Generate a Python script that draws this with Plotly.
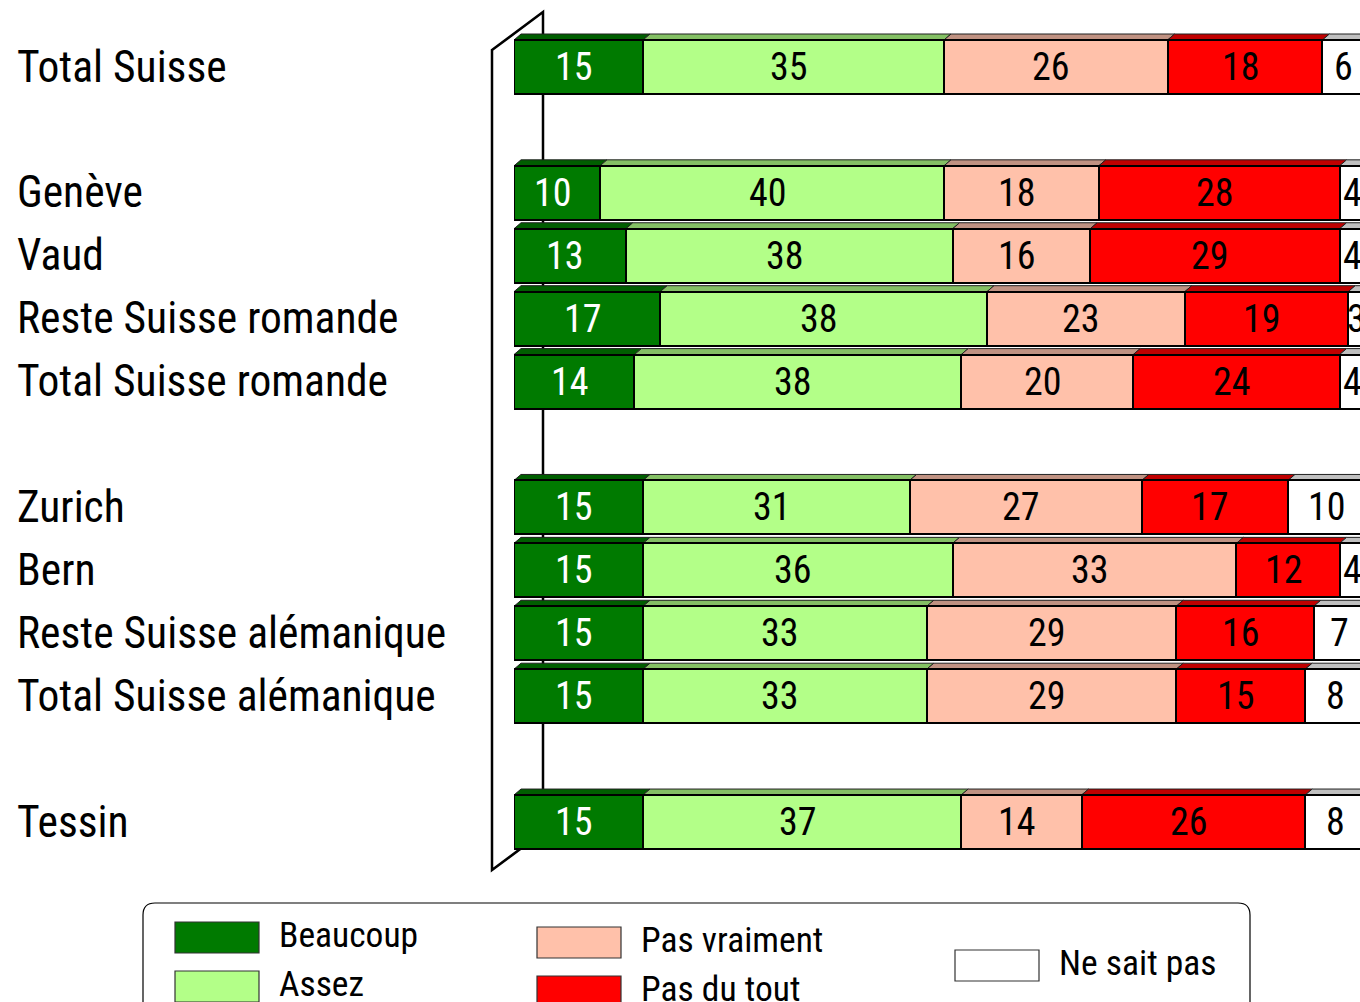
import plotly.graph_objects as go

# ---- data ---------------------------------------------------------------
groups = [
    ["Total Suisse"],
    ["Genève", "Vaud", "Reste Suisse romande", "Total Suisse romande"],
    ["Zurich", "Bern", "Reste Suisse alémanique", "Total Suisse alémanique"],
    ["Tessin"],
]
responses = ["Beaucoup", "Assez", "Pas vraiment", "Pas du tout", "Ne sait pas"]
beaucoup = [15, 10, 13, 17, 14, 15, 15, 15, 15, 15]
assez = [35, 40, 38, 38, 38, 31, 36, 33, 33, 37]
pas_vraiment = [26, 18, 16, 23, 20, 27, 33, 29, 29, 14]
pas_du_tout = [18, 28, 29, 19, 24, 17, 12, 16, 15, 26]
ne_sait_pas = [6, 4, 4, 3, 4, 10, 4, 7, 8, 8]

# ---- style ----------------------------------------------------------------
W, H = 1360, 1002
FONT = "Roboto Condensed, DejaVu Sans Condensed, sans-serif"
front_colors = ["#007A00", "#B3FF88", "#FFC1AA", "#FF0000", "#FFFFFF"]
top_colors = ["#005E00", "#84C064", "#C09282", "#C00000", "#C0C0C0"]
text_colors = ["white", "black", "black", "black", "black"]

X0_PX, PX_PER_UNIT = 514, 8.6        # horizontal scale of the bars
ROW0_PX, ROW_PX = 67, 62.92          # vertical scale of the rows
X_MAX = (W - X0_PX) / PX_PER_UNIT    # visible end of the value axis
BAR_W = 54 / ROW_PX                  # bar thickness in row units
DX = 7 / PX_PER_UNIT                 # depth offset of the bar tops
DY = 6 / ROW_PX
TEXT_SHIFT = -4.5                    # value labels sit slightly left of centre


def px(x, y):
    return x / W, 1 - y / H


# rows with an empty row between groups
slots, labels = [], []
pos = 0
for g in groups:
    for name in g:
        labels.append(name)
        slots.append(pos)
        pos += 1
    pos += 1

series = [beaucoup, assez, pas_vraiment, pas_du_tout, ne_sait_pas]

fig = go.Figure()
shapes = []
annotations = []

# left wall of the 3D frame
wall = [(492, 50), (543, 12), (543, 832), (492, 870)]
pts = [px(*p) for p in wall]
shapes.append(dict(
    type="path", xref="paper", yref="paper", layer="below",
    path="M " + " L ".join(f"{a},{b}" for a, b in pts) + " Z",
    fillcolor="white", line=dict(color="black", width=2.5)))

base = [0] * len(slots)
for k, (name, vals) in enumerate(zip(responses, series)):
    fig.add_bar(
        y=slots, x=vals, base=base, orientation="h", name=name,
        width=BAR_W,
        marker=dict(color=front_colors[k], line=dict(color="black", width=2)),
        showlegend=False, hoverinfo="skip",
    )
    for i, s in enumerate(slots):
        x0, x1 = base[i], base[i] + vals[i]
        yf = s - BAR_W / 2
        # top face of the segment
        shapes.append(dict(
            type="path", xref="x", yref="y", layer="below",
            path=(f"M {x0},{yf} L {x1},{yf} L {x1 + DX},{yf - DY} "
                  f"L {x0 + DX},{yf - DY} Z"),
            fillcolor=top_colors[k], line=dict(color="#202020", width=1)))
        # value label on the front face; anchors past the axis end are
        # clamped and pushed out with a pixel shift so they stay drawn
        mid = (x0 + x1) / 2
        anchor = min(mid, X_MAX)
        annotations.append(dict(
            x=anchor, y=s, xref="x", yref="y",
            xshift=TEXT_SHIFT + (mid - anchor) * PX_PER_UNIT,
            text=str(vals[i]), showarrow=False,
            xanchor="center", yanchor="middle",
            font=dict(family=FONT, size=38, color=text_colors[k])))
    base = [b + v for b, v in zip(base, vals)]

# row labels
for name, s in zip(labels, slots):
    annotations.append(dict(
        x=15 / W, xref="paper", xanchor="left", y=s, yref="y",
        yanchor="middle", text=name, showarrow=False,
        font=dict(family=FONT, size=43.5, color="black")))

# legend box
lx0, ly0, lx1, ly1, r = 143, 903, 1250, 1040, 12
shapes.append(dict(
    type="path", xref="paper", yref="paper",
    path=(f"M {px(lx0 + r, ly0)[0]},{px(0, ly0)[1]} "
          f"L {px(lx1 - r, 0)[0]},{px(0, ly0)[1]} "
          f"Q {px(lx1, 0)[0]},{px(0, ly0)[1]} {px(lx1, 0)[0]},{px(0, ly0 + r)[1]} "
          f"L {px(lx1, 0)[0]},{px(0, ly1)[1]} "
          f"L {px(lx0, 0)[0]},{px(0, ly1)[1]} "
          f"L {px(lx0, 0)[0]},{px(0, ly0 + r)[1]} "
          f"Q {px(lx0, 0)[0]},{px(0, ly0)[1]} {px(lx0 + r, 0)[0]},{px(0, ly0)[1]} Z"),
    fillcolor="rgba(0,0,0,0)", line=dict(color="black", width=1.2)))

legend_pos = [(175, 922), (175, 971), (537, 927), (537, 976), (955, 950)]
for k, (name, (sx, sy)) in enumerate(zip(responses, legend_pos)):
    a = px(sx, sy)
    b = px(sx + 84, sy + 31)
    shapes.append(dict(
        type="rect", xref="paper", yref="paper",
        x0=a[0], x1=b[0], y0=b[1], y1=a[1],
        fillcolor=front_colors[k], line=dict(color="#333333", width=1.2)))
    tx, ty = px(sx + 102, sy + 13)
    annotations.append(dict(
        x=tx, y=ty, xref="paper", yref="paper", xanchor="left",
        yanchor="middle", text=name, showarrow=False,
        font=dict(family=FONT, size=35.5, color="black")))

fig.update_layout(
    width=W, height=H,
    margin=dict(l=0, r=0, t=0, b=0),
    barmode="stack",
    bargap=0,
    paper_bgcolor="white",
    plot_bgcolor="rgba(0,0,0,0)",
    shapes=shapes,
    annotations=annotations,
    xaxis=dict(domain=[X0_PX / W, 1], range=[0, X_MAX],
               visible=False, fixedrange=True),
    yaxis=dict(domain=[0, 1],
               range=[(H - ROW0_PX) / ROW_PX, -ROW0_PX / ROW_PX],
               visible=False, fixedrange=True),
)

fig.write_html("out.html")
